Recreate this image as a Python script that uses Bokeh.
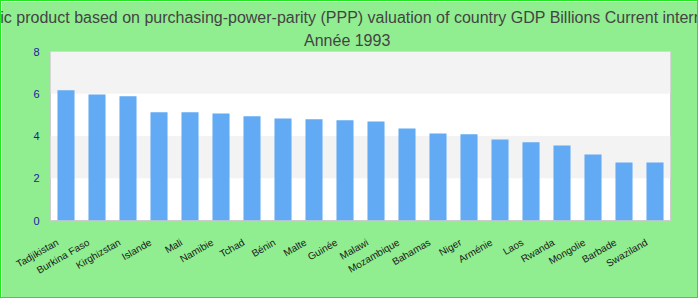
from bokeh.plotting import figure
from bokeh.models import ColumnDataSource, FixedTicker, Title, Range1d, CustomJSTickFormatter
from bokeh.embed import file_html
from bokeh.resources import INLINE
import math

countries = ["Tadjikistan", "Burkina Faso", "Kirghizstan", "Islande", "Mali", "Namibie",
             "Tchad", "Bénin", "Malte", "Guinée", "Malawi", "Mozambique", "Bahamas",
             "Niger", "Arménie", "Laos", "Rwanda", "Mongolie", "Barbade", "Swaziland"]
gdp = [6.16, 5.97, 5.88, 5.12, 5.12, 5.07, 4.93, 4.83, 4.79, 4.74, 4.69, 4.36, 4.12,
       4.08, 3.84, 3.70, 3.55, 3.13, 2.75, 2.75]
y_ticks = [0, 2, 4, 6, 8]

title_main = ("Gross domestic product based on purchasing-power-parity (PPP) valuation "
              "of country GDP Billions Current international dollar")
title_sub = "Année 1993"

# trailing padding so the centred title sits on the page centre rather than the frame centre
pad = "\u00a0" * 6

src = ColumnDataSource(dict(x=countries, top=gdp))

p = figure(x_range=countries, y_range=Range1d(0, 8), width=698, height=298,
           output_backend="svg", toolbar_location=None,
           min_border_left=49, min_border_right=29, min_border_top=50, min_border_bottom=79)
p.styles = {"border": "1px solid #22e622"}
p.border_fill_color = "#90ee90"
p.background_fill_color = "white"
p.outline_line_color = "#cccccc"
p.outline_line_width = 1

p.vbar(x="x", top="top", width=0.55, source=src, color="#62aaf4", line_color=None)

# titles
t_main = Title(text=title_main + pad, align="center", text_font="Liberation Sans",
               text_font_size="16px", text_color="#444444", text_font_style="normal",
               standoff=2)
t_sub = Title(text=title_sub + pad, align="center", text_font="Liberation Sans",
              text_font_size="16px", text_color="#444444", text_font_style="normal",
              standoff=6)
p.title = t_main
p.add_layout(t_sub, "above")

# grid
p.xgrid.grid_line_color = None
p.ygrid.grid_line_color = None
p.ygrid.ticker = FixedTicker(ticks=y_ticks)
p.ygrid.band_fill_color = "#f3f3f3"
p.ygrid.band_fill_alpha = 1.0

# y axis
p.yaxis.ticker = FixedTicker(ticks=y_ticks)
p.yaxis.axis_line_color = None
p.yaxis.major_tick_line_color = None
p.yaxis.minor_tick_line_color = None
p.yaxis.major_label_text_color = "#1a1aa0"
p.yaxis.major_label_text_font = "Liberation Sans"
p.yaxis.major_label_text_font_size = "11px"
p.yaxis.major_label_standoff = 5

# x axis (a blank trailing cell keeps the label end a few pixels left of the tick)
p.xaxis.axis_line_color = None
p.xaxis.major_tick_line_color = None
p.xaxis.major_label_orientation = math.radians(30)
p.xaxis.formatter = CustomJSTickFormatter(code="return tick + '\\u00a0\\u2800';")
p.xaxis.major_label_text_font = "Liberation Sans"
p.xaxis.major_label_text_font_size = "10px"
p.xaxis.major_label_text_color = "#1a1a1a"
p.xaxis.major_label_standoff = 10

open("out.html", "w").write(file_html(p, INLINE))
